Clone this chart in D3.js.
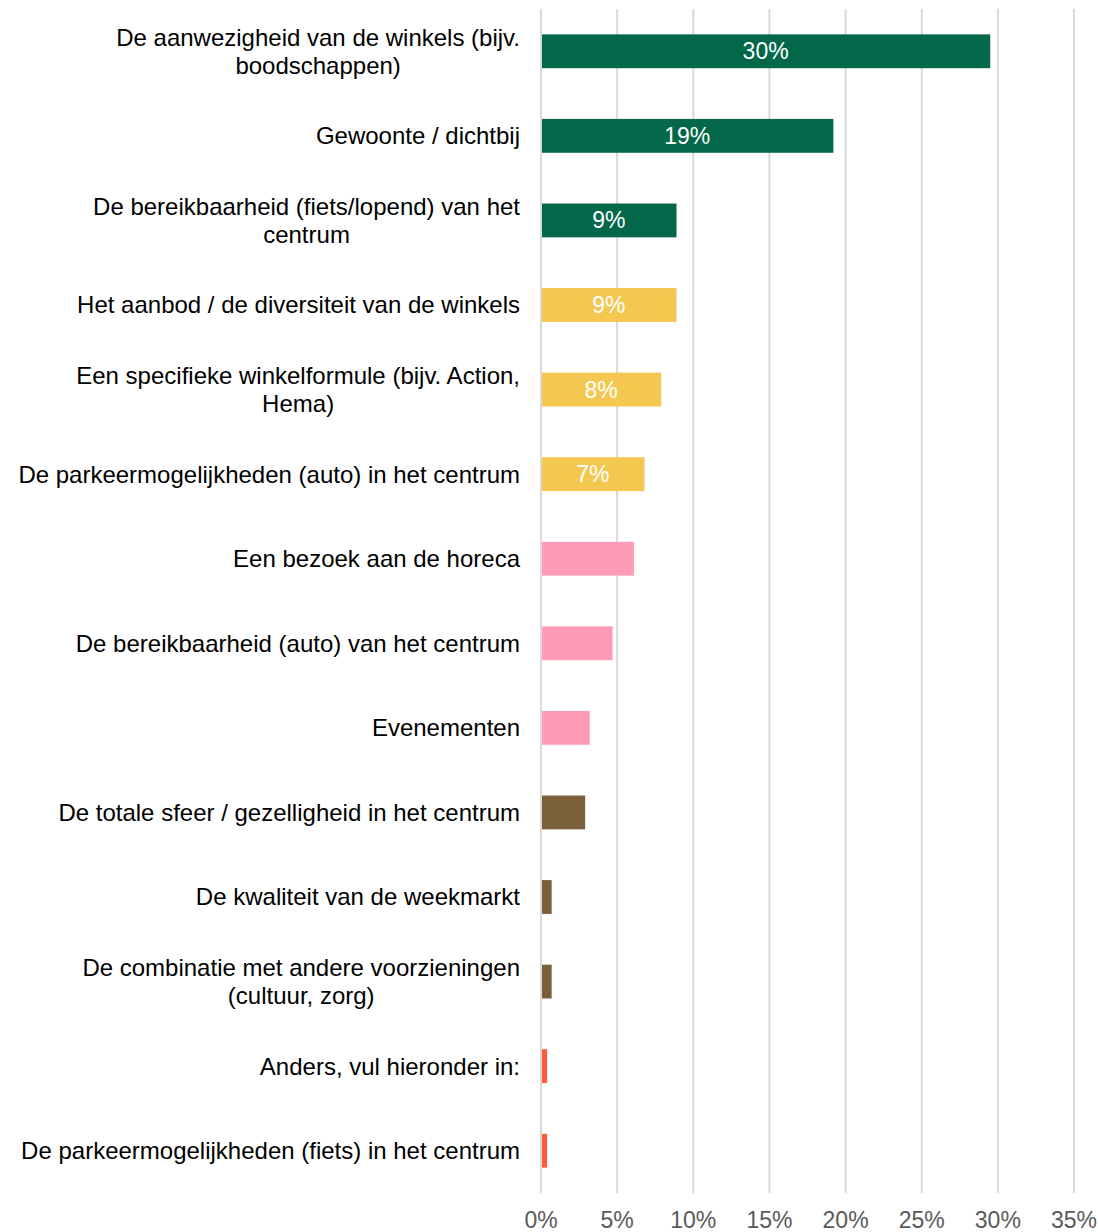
<!DOCTYPE html>
<html>
<head>
<meta charset="utf-8">
<script src="https://cdn.jsdelivr.net/npm/d3@7"></script>
<style>
  html, body { margin: 0; padding: 0; background: #fff; }
  svg { display: block; font-family: "Liberation Sans", Arial, sans-serif; }
</style>
</head>
<body>
<div id="chart"></div>
<script>
/* ===== Horizontal bar chart: reasons to visit the centre ===== */

// Category labels (line breaks as in the original)
const categories = [
    'De aanwezigheid van de winkels (bijv.\nboodschappen)',
    'Gewoonte / dichtbij',
    'De bereikbaarheid (fiets/lopend) van het\ncentrum',
    'Het aanbod / de diversiteit van de winkels',
    'Een specifieke winkelformule (bijv. Action,\nHema)',
    'De parkeermogelijkheden (auto) in het centrum',
    'Een bezoek aan de horeca',
    'De bereikbaarheid (auto) van het centrum',
    'Evenementen',
    'De totale sfeer / gezelligheid in het centrum',
    'De kwaliteit van de weekmarkt',
    'De combinatie met andere voorzieningen\n(cultuur, zorg)',
    'Anders, vul hieronder in:',
    'De parkeermogelijkheden (fiets) in het centrum'
];

// Share of respondents (fraction)
const values = [0.295, 0.192, 0.089, 0.089, 0.079, 0.068, 0.061, 0.047, 0.032, 0.029, 0.007, 0.007, 0.004, 0.004];

// Colour group per bar
const groups = ['green', 'green', 'green', 'yellow', 'yellow', 'yellow', 'pink', 'pink', 'pink',
                'brown', 'brown', 'brown', 'red', 'red'];

// Which bars carry a data label
const showLabel = [true, true, true, true, true, true, false, false, false, false, false, false, false, false];

const xTicks = [0, 0.05, 0.10, 0.15, 0.20, 0.25, 0.30, 0.35];

const palette = {
    green: '#03674a',
    yellow: '#f4c850',
    pink: '#ff9ab7',
    brown: '#7b5f3b',
    red: '#ff5b3b'
};

const width = 1098;
const height = 1232;
const margin = { top: 9, right: 24, bottom: 39, left: 541 };

const svg = d3.select('#chart')
    .append('svg')
    .attr('width', width)
    .attr('height', height);

const x = d3.scaleLinear()
    .domain([0, 0.35])
    .range([margin.left, width - margin.right]);

const y = d3.scaleBand()
    .domain(d3.range(categories.length))
    .range([margin.top, height - margin.bottom])
    .paddingInner(0.6)
    .paddingOuter(0.3);

// Gridlines (drawn first so bars sit on top)
svg.append('g')
    .selectAll('line')
    .data(xTicks)
    .join('line')
    .attr('x1', d => x(d))
    .attr('x2', d => x(d))
    .attr('y1', margin.top)
    .attr('y2', height - margin.bottom)
    .attr('stroke', '#d9d9d9')
    .attr('stroke-width', 2);

// Bars
svg.append('g')
    .selectAll('rect')
    .data(values)
    .join('rect')
    .attr('x', x(0) + 1)
    .attr('y', (d, i) => y(i))
    .attr('width', d => x(d) - x(0) - 1)
    .attr('height', y.bandwidth())
    .attr('fill', (d, i) => palette[groups[i]]);

// Data labels inside bars
svg.append('g')
    .selectAll('text')
    .data(values.map((v, i) => ({ v, i })).filter(d => showLabel[d.i]))
    .join('text')
    .attr('x', d => (x(0) + x(d.v)) / 2)
    .attr('y', d => y(d.i) + y.bandwidth() / 2)
    .attr('dy', '0.35em')
    .attr('text-anchor', 'middle')
    .attr('fill', '#ffffff')
    .attr('font-size', 23)
    .text(d => d3.format('.0%')(d.v));

// Category labels: right-aligned block, lines centred within the block
const labelRight = 520;
const lineHeight = 28;
const labelSize = 24;
const measure = svg.append('text').attr('font-size', labelSize).attr('visibility', 'hidden');

categories.forEach((label, i) => {
    const lines = label.split('\n');
    const widths = lines.map(l => {
        measure.text(l);
        return measure.node().getComputedTextLength();
    });
    const blockW = Math.max(...widths);
    const cx = labelRight - blockW / 2;
    const cy = y(i) + y.bandwidth() / 2;
    lines.forEach((l, j) => {
        svg.append('text')
            .attr('x', cx)
            .attr('y', cy + (j - (lines.length - 1) / 2) * lineHeight)
            .attr('dy', '0.35em')
            .attr('text-anchor', 'middle')
            .attr('font-size', labelSize)
            .attr('fill', '#000000')
            .text(l);
    });
});
measure.remove();

// X axis tick labels
svg.append('g')
    .selectAll('text')
    .data(xTicks)
    .join('text')
    .attr('x', d => x(d))
    .attr('y', 1220)
    .attr('dy', '0.35em')
    .attr('text-anchor', 'middle')
    .attr('font-size', 23)
    .attr('fill', '#595959')
    .text(d => d3.format('.0%')(d));
</script>
</body>
</html>
